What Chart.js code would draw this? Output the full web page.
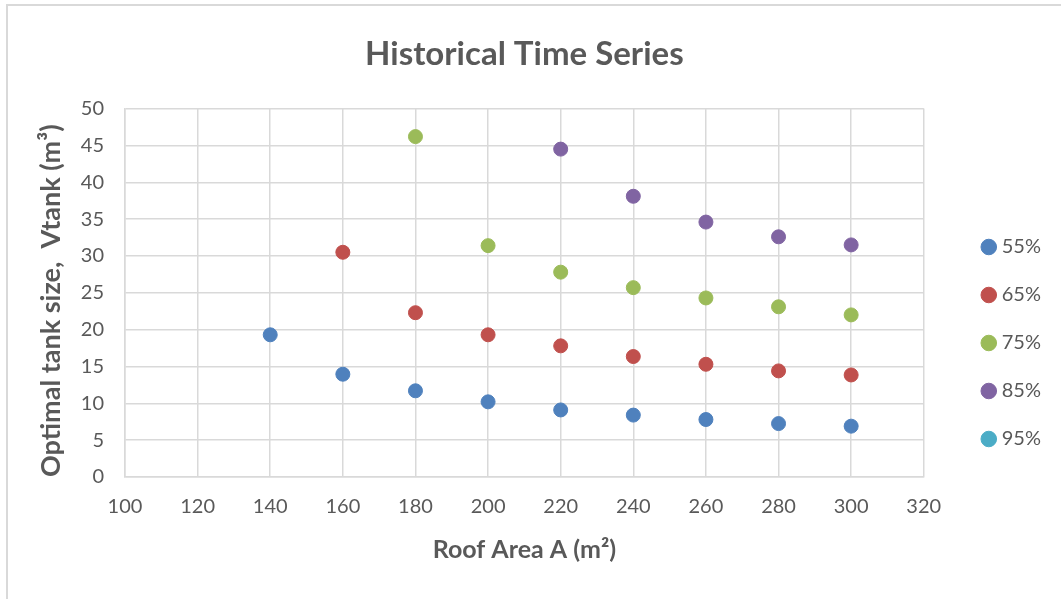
<!DOCTYPE html>
<html>
<head>
<meta charset="utf-8">
<script src="https://cdn.jsdelivr.net/npm/chart.js@4.4.0/dist/chart.umd.min.js"></script>
<style>
  html, body { margin: 0; padding: 0; background: #fff; }
  #frame { position: absolute; left: 6px; top: 4px; width: 1100px; height: 700px;
           border-left: 2px solid #d9d9d9; border-top: 2px solid #d9d9d9; }
  #wrap { position: absolute; left: 0; top: 0; width: 1061px; height: 599px; }
</style>
</head>
<body>
<div id="frame"></div>
<div id="wrap"><canvas id="myChart"></canvas></div>
<script>
const roofArea = [140, 160, 180, 200, 220, 240, 260, 280, 300];
const tank55 = [19.3, 13.95, 11.7, 10.2, 9.1, 8.4, 7.8, 7.25, 6.9];
const tank65 = [null, 30.5, 22.3, 19.3, 17.8, 16.35, 15.3, 14.4, 13.85];
const tank75 = [null, null, 46.2, 31.4, 27.8, 25.7, 24.3, 23.1, 22.0];
const tank85 = [null, null, null, null, 44.5, 38.1, 34.6, 32.6, 31.5];
const tank95 = [];
const xTicks = [100, 120, 140, 160, 180, 200, 220, 240, 260, 280, 300, 320];
const yTicks = [0, 5, 10, 15, 20, 25, 30, 35, 40, 45, 50];

const textColor = "#595959";
const gridColor = "#d9d9d9";

function pairs(values) {
  const out = [];
  values.forEach((v, i) => {
    if (v !== null && v !== undefined) out.push({ x: roofArea[i], y: v });
  });
  return out;
}

function series(label, values, color) {
  return {
    label: label,
    data: pairs(values),
    backgroundColor: color,
    borderColor: color,
    borderWidth: 1,
    pointRadius: 7,
    pointHoverRadius: 7,
  };
}

const chart = new Chart(document.getElementById("myChart"), {
  type: "scatter",
  data: {
    datasets: [
      series("55%", tank55, "#4f81bd"),
      series("65%", tank65, "#c0504d"),
      series("75%", tank75, "#9bbb59"),
      series("85%", tank85, "#8064a2"),
      series("95%", tank95, "#4bacc6"),
    ],
  },
  options: {
    responsive: true,
    maintainAspectRatio: false,
    animation: false,
    layout: { padding: { left: 35, top: 4, right: 10, bottom: 34 } },
    scales: {
      x: {
        type: "linear",
        min: 100,
        max: 320,
        afterBuildTicks: (s) => { s.ticks = xTicks.map((v) => ({ value: v })); },
        afterFit: (s) => { s.height = 88; },
        ticks: { color: textColor, font: { family: "Lato", size: 20 }, padding: 18 },
        grid: { color: gridColor, lineWidth: 1.5, drawTicks: false },
        border: { color: gridColor, width: 1.5 },
        title: {
          display: true,
          text: "Roof Area A (m²)",
          color: textColor,
          font: { family: "Lato", size: 25, weight: "bold" },
          padding: 0,
        },
      },
      y: {
        type: "linear",
        min: 0,
        max: 50,
        afterBuildTicks: (s) => { s.ticks = yTicks.map((v) => ({ value: v })); },
        afterFit: (s) => { s.width = 90; },
        ticks: { color: textColor, font: { family: "Lato", size: 20 }, padding: 21 },
        grid: { color: gridColor, lineWidth: 1.5, drawTicks: false },
        border: { color: gridColor, width: 1.5 },
        title: {
          display: true,
          align: "start",
          text: "Optimal tank size,  Vtank (m³)",
          color: textColor,
          font: { family: "Lato", size: 27, weight: "bold" },
          padding: 0,
        },
      },
      // empty gap between the plot and the legend
      gap: {
        type: "linear",
        position: "right",
        display: true,
        afterFit: (s) => { s.width = 34; },
        ticks: { display: false },
        grid: { display: false },
        border: { display: false },
      },
    },
    plugins: {
      legend: {
        position: "right",
        align: "end",
        fullSize: false,
        labels: {
          color: textColor,
          font: { family: "Lato", size: 20 },
          usePointStyle: true,
          pointStyle: "circle",
          boxWidth: 6,
          boxHeight: 11,
          padding: 28,
        },
      },
      title: {
        display: true,
        fullSize: false,
        text: "Historical Time Series",
        color: textColor,
        font: { family: "Lato", size: 33, weight: "bold" },
        padding: { top: 31, bottom: 34 },
      },
      tooltip: { enabled: false },
    },
  },
});
</script>
</body>
</html>
